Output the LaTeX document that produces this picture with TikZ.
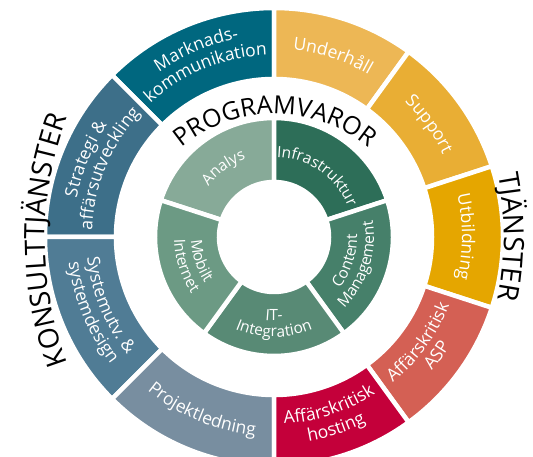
\documentclass[tikz,border=0pt]{standalone}
\usepackage{fontspec}
\setmainfont{Open Sans}
\usetikzlibrary{decorations.text}

\definecolor{markTeal}{RGB}{0, 103, 127}
\definecolor{strategiBlue}{RGB}{61, 111, 137}
\definecolor{systemBlue}{RGB}{80, 124, 149}
\definecolor{projektGrey}{RGB}{120, 142, 160}
\definecolor{underhallYellow}{RGB}{237, 183, 85}
\definecolor{supportYellow}{RGB}{233, 174, 52}
\definecolor{utbildningYellow}{RGB}{229, 166, 0}
\definecolor{aspRed}{RGB}{212, 96, 84}
\definecolor{hostingRed}{RGB}{196, 0, 58}
\definecolor{analysGreen}{RGB}{135, 170, 152}
\definecolor{infraGreen}{RGB}{45, 110, 88}
\definecolor{contentGreen}{RGB}{70, 128, 106}
\definecolor{integrationGreen}{RGB}{88, 138, 117}
\definecolor{mobiltGreen}{RGB}{108, 154, 132}

\newcommand\ringfont{\fontsize{17.5}{17.5}\selectfont}
\newcommand\corefont{\fontsize{15.5}{15.5}\selectfont}
\newcommand\headfont{\fontsize{25}{25}\selectfont}
\newcommand\sidefont{\fontsize{28}{28}\selectfont}

\tikzset{
  segment/.style={draw=white, line width=4.5pt},
  ringtext/.style={decorate, decoration={text along path, text/.expanded={#1}, text align=center, text color=white}},
  headtext/.style={decorate, decoration={text along path, text={#1}, text align=center}}
}

\begin{document}
\begin{tikzpicture}[x=1pt, y=1pt]
\useasboundingbox (0,0) rectangle (533,457);
\clip (0,0) rectangle (533,457);

\begin{scope}[shift={(274,220)}]
% outer ring
\foreach \a/\b/\c in {90/135/markTeal, 135/180/strategiBlue, 180/225/systemBlue, 225/270/projektGrey,
    54/90/underhallYellow, 18/54/supportYellow, -18/18/utbildningYellow, -54/-18/aspRed, -90/-54/hostingRed} {
  \filldraw[segment, fill=\c] (\a:158) -- (\a:229) arc[start angle=\a, end angle=\b, radius=229]
    -- (\b:158) arc[start angle=\b, end angle=\a, radius=158] -- cycle;
}
% inner ring
\foreach \a/\b/\c in {90/162/analysGreen, 18/90/infraGreen, -54/18/contentGreen, -126/-54/integrationGreen, 162/234/mobiltGreen} {
  \filldraw[segment, fill=\c] (\a:55) -- (\a:119) arc[start angle=\a, end angle=\b, radius=119]
    -- (\b:55) arc[start angle=\b, end angle=\a, radius=55] -- cycle;
}

% labels read clockwise
\foreach \m/\r/\t in {112.5/201/Marknads-, 112.5/182/kommunikation, 157.5/201/Strategi {\&}, 157.5/182/affärsutveckling,
    72/188/Underhåll, 36/188/Support, 0/188/Utbildning} {
  \path[ringtext={|\noexpand\ringfont|\t}] ({\m+40}:\r) arc[start angle={\m+40}, end angle={\m-40}, radius=\r];
}
% labels read counter-clockwise
\foreach \m/\r/\t in {202.5/188/Systemutv. {\&}, 202.5/207/systemdesign, 247.5/199/Projektledning,
    -36/188/Affärskritisk, -36/207/ASP, -72/187/Affärskritisk, -72/207/hosting} {
  \path[ringtext={|\noexpand\ringfont|\t}] ({\m-40}:\r) arc[start angle={\m-40}, end angle={\m+40}, radius=\r];
}
% inner ring labels
\foreach \m/\r/\t in {126/83/Analys, 55/80/Infrastruktur} {
  \path[ringtext={|\noexpand\corefont|\t}] ({\m+55}:\r) arc[start angle={\m+55}, end angle={\m-55}, radius=\r];
}
\foreach \m/\r/\t in {-18/83/Content, -18/100/Management, -90/84/IT-, -90/100/Integration, 198/83/Mobilt, 198/100/Internet} {
  \path[ringtext={|\noexpand\corefont|\t}] ({\m-55}:\r) arc[start angle={\m-55}, end angle={\m+55}, radius=\r];
}
\end{scope}

% headings
\path[headtext={|\headfont|PROGRAMVAROR}] ([shift={(275,197)}]140:146) arc[start angle=140, end angle=40, radius=146];
\path[headtext={|\sidefont|KONSULTTJÄNSTER}] ([shift={(396,217)}]208:351) arc[start angle=208, end angle=152, radius=351];
\path[headtext={|\sidefont|TJÄNSTER}] ([shift={(174,220)}]22:330) arc[start angle=22, end angle=-22, radius=330];
\end{tikzpicture}
\end{document}
